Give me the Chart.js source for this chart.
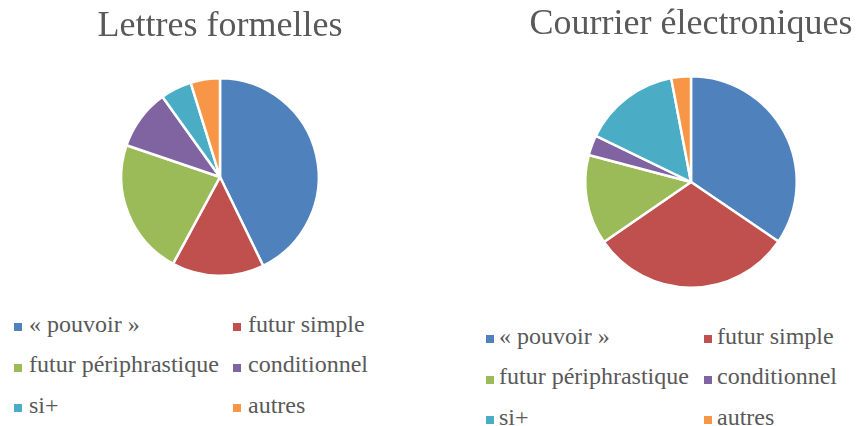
<!DOCTYPE html>
<html>
<head>
<meta charset="utf-8">
<script src="https://cdn.jsdelivr.net/npm/chart.js"></script>
<style>
  body { margin: 0; background: #fff; width: 858px; height: 426px; overflow: hidden; position: relative; }
  .box { position: absolute; top: 0; width: 429px; height: 300px; }
  .legend { position: absolute; display: grid; grid-auto-rows: 40.5px; align-items: center;
            font-family: "Liberation Serif", serif; font-size: 24px; color: #595959; }
  .item { display: flex; align-items: center; white-space: nowrap; }
  .item i { display: inline-block; width: 8px; height: 8px; position: relative; top: 3px; }
</style>
</head>
<body>
<div class="box" style="left:0"><canvas id="lettres" width="429" height="300"></canvas></div>
<div class="box" style="left:429px"><canvas id="courrier" width="429" height="300"></canvas></div>
<div class="legend" id="legLettres" style="left:14px; top:304px; grid-template-columns:219px 219px"></div>
<div class="legend" id="legCourrier" style="left:486px; top:316px; grid-template-columns:218px 218px"></div>
<script>
const categories = ['« pouvoir »', 'futur simple', 'futur périphrastique', 'conditionnel', 'si+', 'autres'];
const lettresFormelles = [42.8, 15.1, 22.3, 9.9, 5.1, 4.8];
const courrierElectroniques = [34.5, 30.9, 13.7, 3.1, 14.8, 3.0];
const colors = ['#4F81BD', '#C0504D', '#9BBB59', '#8064A2', '#4BACC6', '#F79646'];

function pie(id, title, values, pad, titlePad) {
  return new Chart(document.getElementById(id), {
    type: 'pie',
    data: {
      labels: categories,
      datasets: [{ data: values, backgroundColor: colors, borderColor: '#fff', borderWidth: 2.5 }]
    },
    options: {
      responsive: false,
      animation: false,
      devicePixelRatio: 1,
      layout: { padding: pad },
      plugins: {
        legend: { display: false },
        tooltip: { enabled: false },
        title: {
          display: true,
          text: title,
          color: '#595959',
          font: { family: '"Liberation Serif", serif', size: 36, weight: 'normal' },
          padding: titlePad
        }
      }
    }
  });
}

function legend(id, gap) {
  const el = document.getElementById(id);
  categories.forEach((c, i) => {
    const d = document.createElement('div');
    d.className = 'item';
    d.innerHTML = '<i style="background:' + colors[i] + ';margin-right:' + gap + 'px"></i><span></span>';
    d.querySelector('span').textContent = c;
    el.appendChild(d);
  });
}

pie('lettres', 'Lettres formelles', lettresFormelles, { left: 11, right: 0, top: 0, bottom: 23 }, { top: 5, bottom: 28.8 });
pie('courrier', 'Courrier électroniques', courrierElectroniques, { left: 95, right: 0, top: 0, bottom: 11 }, { top: 3, bottom: 28.8 });
legend('legLettres', 7);
legend('legCourrier', 5);
</script>
</body>
</html>
